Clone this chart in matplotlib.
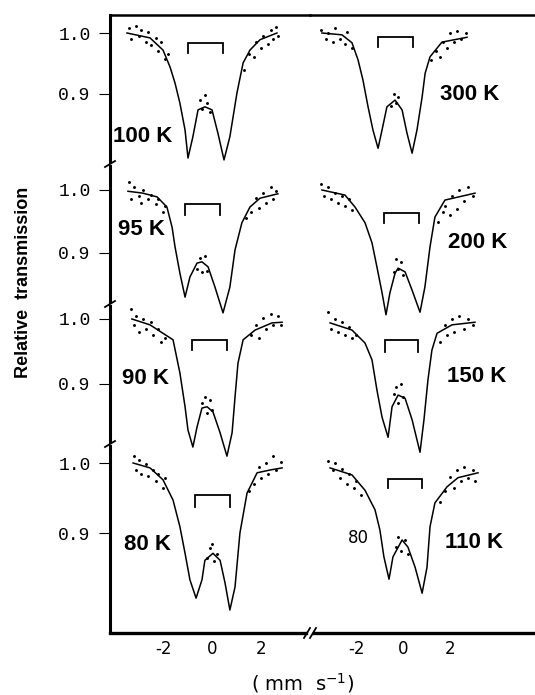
import matplotlib
matplotlib.use('Agg')
import matplotlib.pyplot as plt
from matplotlib.lines import Line2D

W, H = 535, 695

# fitted curves: velocity (mm/s) and relative transmission
v_100 = [-3.47, -2.53, -2.00, -1.71, -1.51, -1.31, -1.10, -0.98, -0.78, -0.57, -0.29, 0.00, 0.24, 0.49, 0.73, 1.02, 1.27, 1.55, 1.96, 2.65]
t_100 = [1.000, 0.992, 0.972, 0.944, 0.918, 0.885, 0.841, 0.795, 0.830, 0.874, 0.879, 0.874, 0.836, 0.792, 0.830, 0.902, 0.951, 0.972, 0.989, 1.000]
v_95 = [-3.43, -2.82, -2.24, -1.84, -1.63, -1.51, -1.31, -1.10, -0.90, -0.61, -0.41, -0.16, 0.12, 0.45, 0.73, 0.94, 1.22, 1.55, 1.96, 2.69]
t_95 = [0.998, 0.995, 0.989, 0.973, 0.941, 0.910, 0.868, 0.830, 0.862, 0.884, 0.886, 0.878, 0.846, 0.805, 0.846, 0.905, 0.948, 0.973, 0.987, 0.994]
v_90 = [-3.27, -2.53, -2.00, -1.59, -1.31, -1.10, -0.98, -0.78, -0.61, -0.41, -0.20, 0.04, 0.33, 0.61, 0.82, 0.94, 1.06, 1.27, 1.76, 2.45, 2.86]
t_90 = [1.000, 0.991, 0.978, 0.968, 0.917, 0.865, 0.829, 0.803, 0.834, 0.863, 0.865, 0.857, 0.825, 0.789, 0.825, 0.880, 0.932, 0.968, 0.983, 0.994, 0.995]
v_80 = [-3.22, -2.53, -2.00, -1.59, -1.31, -1.10, -0.90, -0.65, -0.41, -0.29, 0.04, 0.33, 0.53, 0.73, 0.94, 1.14, 1.43, 1.84, 2.37, 2.86]
t_80 = [1.000, 0.993, 0.976, 0.947, 0.909, 0.871, 0.833, 0.807, 0.833, 0.861, 0.871, 0.861, 0.829, 0.790, 0.823, 0.900, 0.957, 0.986, 0.990, 0.993]
v_300 = [-3.48, -2.62, -2.19, -1.93, -1.72, -1.50, -1.29, -1.07, -0.90, -0.69, -0.34, -0.04, 0.17, 0.39, 0.60, 0.82, 0.95, 1.16, 1.67, 2.75]
t_300 = [1.000, 0.997, 0.984, 0.956, 0.923, 0.879, 0.841, 0.811, 0.841, 0.879, 0.890, 0.874, 0.836, 0.803, 0.841, 0.895, 0.934, 0.961, 0.985, 0.993]
v_200 = [-3.48, -2.49, -2.06, -1.63, -1.33, -1.12, -0.90, -0.73, -0.56, -0.34, -0.21, 0.09, 0.39, 0.73, 0.94, 1.16, 1.37, 1.80, 3.09]
t_200 = [1.000, 0.992, 0.973, 0.948, 0.916, 0.878, 0.837, 0.802, 0.837, 0.868, 0.876, 0.870, 0.841, 0.806, 0.846, 0.910, 0.957, 0.984, 0.995]
v_150 = [-3.13, -2.19, -1.63, -1.33, -1.12, -0.90, -0.64, -0.47, -0.21, 0.09, 0.39, 0.73, 0.90, 1.07, 1.24, 1.46, 2.10, 3.09]
t_150 = [0.994, 0.983, 0.963, 0.937, 0.891, 0.849, 0.818, 0.865, 0.883, 0.878, 0.845, 0.795, 0.845, 0.906, 0.952, 0.978, 0.991, 0.995]
v_110 = [-3.13, -2.19, -1.63, -1.20, -0.99, -0.82, -0.60, -0.43, -0.04, 0.21, 0.52, 0.82, 1.03, 1.16, 1.37, 1.89, 2.36, 3.22]
t_110 = [0.993, 0.983, 0.961, 0.933, 0.904, 0.866, 0.834, 0.866, 0.890, 0.880, 0.851, 0.814, 0.851, 0.909, 0.943, 0.966, 0.979, 0.986]

# measured points (scatter around the fits)
d100_v = [-3.4, -3.3, -3.1, -3.0, -2.9, -2.7, -2.6, -2.5, -2.3, -2.2, -2.1, -1.9, -1.8, -0.5, -0.4, -0.3, -0.2, -0.1, 1.3, 1.5, 1.7, 1.8, 2.0, 2.1, 2.3, 2.4, 2.5, 2.6, 2.7]
d100_t = [1.008, 0.99, 1.012, 0.995, 1.005, 0.985, 1.002, 0.98, 0.992, 0.97, 0.985, 0.958, 0.965, 0.89, 0.875, 0.898, 0.885, 0.87, 0.94, 0.965, 0.96, 0.985, 0.975, 0.995, 0.982, 1.005, 0.99, 1.01, 0.995]
d95_v = [-3.4, -3.3, -3.2, -3.0, -2.9, -2.8, -2.6, -2.5, -2.3, -2.2, -2.0, -1.9, -0.6, -0.5, -0.4, -0.3, -0.2, 1.4, 1.6, 1.8, 1.9, 2.1, 2.2, 2.4, 2.5, 2.6]
d95_t = [1.012, 0.985, 1.005, 0.99, 0.98, 1.0, 0.985, 0.992, 0.978, 0.985, 0.965, 0.975, 0.875, 0.892, 0.87, 0.895, 0.872, 0.955, 0.965, 0.988, 0.972, 0.995, 0.98, 1.005, 0.985, 0.998]
d90_v = [-3.3, -3.2, -3.1, -3.0, -2.8, -2.7, -2.5, -2.4, -2.2, -2.1, -1.9, -0.4, -0.3, -0.2, -0.1, 0.0, 1.6, 1.8, 1.9, 2.1, 2.2, 2.4, 2.5, 2.7, 2.8]
d90_t = [1.015, 0.99, 1.005, 0.98, 1.0, 0.985, 0.995, 0.975, 0.985, 0.965, 0.97, 0.87, 0.88, 0.855, 0.875, 0.86, 0.975, 0.99, 0.97, 1.002, 0.985, 1.008, 0.99, 1.005, 0.99]
d80_v = [-3.2, -3.1, -3.0, -2.9, -2.7, -2.6, -2.4, -2.3, -2.2, -2.0, -1.9, -0.2, -0.1, 0.0, 0.1, 0.2, 1.5, 1.7, 1.9, 2.0, 2.2, 2.3, 2.5, 2.6, 2.8]
d80_t = [1.01, 0.99, 1.005, 0.985, 0.998, 0.982, 0.99, 0.975, 0.985, 0.965, 0.978, 0.865, 0.878, 0.885, 0.86, 0.87, 0.96, 0.97, 0.995, 0.978, 1.0, 0.985, 1.01, 0.99, 1.002]
d300_v = [-3.5, -3.3, -3.2, -3.0, -2.9, -2.7, -2.5, -2.4, -2.2, -0.5, -0.4, -0.3, -0.2, 1.2, 1.4, 1.6, 1.7, 1.9, 2.0, 2.2, 2.3, 2.5, 2.7]
d300_t = [1.005, 0.99, 1.0, 0.985, 1.008, 0.99, 0.982, 1.002, 0.975, 0.88, 0.9, 0.885, 0.895, 0.955, 0.97, 0.96, 0.985, 0.975, 1.0, 0.985, 1.003, 0.99, 1.0]
d200_v = [-3.5, -3.4, -3.2, -3.1, -2.9, -2.8, -2.6, -2.5, -2.3, -2.2, -0.4, -0.3, -0.2, -0.1, 0.0, 1.5, 1.7, 1.8, 2.0, 2.1, 2.3, 2.4, 2.6, 2.8, 3.0]
d200_t = [1.01, 0.99, 1.005, 0.985, 0.995, 0.98, 0.99, 0.975, 0.985, 0.968, 0.87, 0.89, 0.875, 0.885, 0.865, 0.95, 0.965, 0.975, 0.96, 0.99, 0.97, 1.0, 0.982, 1.005, 0.99]
d150_v = [-3.2, -3.1, -2.9, -2.8, -2.6, -2.5, -2.3, -2.2, -2.0, -0.4, -0.3, -0.2, -0.1, 0.0, 1.6, 1.8, 1.9, 2.1, 2.2, 2.4, 2.6, 2.8, 3.0]
d150_t = [1.01, 0.985, 1.0, 0.98, 0.995, 0.975, 0.988, 0.97, 0.975, 0.885, 0.895, 0.87, 0.9, 0.88, 0.965, 0.99, 0.975, 1.0, 0.98, 1.005, 0.985, 1.0, 0.99]
d110_v = [-3.2, -3.0, -2.9, -2.7, -2.6, -2.4, -2.3, -2.1, -2.0, -1.8, -0.3, -0.2, -0.1, 0.1, 0.2, 1.6, 1.8, 2.0, 2.2, 2.3, 2.5, 2.6, 2.8, 3.0, 3.1]
d110_t = [1.003, 0.99, 1.0, 0.978, 0.992, 0.97, 0.985, 0.965, 0.975, 0.955, 0.88, 0.895, 0.875, 0.89, 0.87, 0.945, 0.96, 0.98, 0.965, 0.99, 0.975, 0.995, 0.978, 0.99, 0.975]

# line-position brackets: left and right velocity, top and leg transmission
br_100 = [-0.98, 0.45, 0.984, 0.967]
br_95 = [-1.10, 0.33, 0.978, 0.960]
br_90 = [-0.82, 0.61, 0.968, 0.952]
br_80 = [-0.69, 0.73, 0.954, 0.937]
br_300 = [-1.07, 0.43, 0.993, 0.977]
br_200 = [-0.82, 0.69, 0.963, 0.948]
br_150 = [-0.77, 0.64, 0.968, 0.949]
br_110 = [-0.64, 0.82, 0.977, 0.964]

temps = ['100 K', '95 K', '90 K', '80 K', '300 K', '200 K', '150 K', '110 K']
x_ticks = [-2, 0, 2]
x_ticklabels = ['-2', '0', '2']

# layout, in pixels of the 535x695 picture
FRAME = (110, 535, 15, 633)          # left, right, top, bottom
BREAK_X = 310
CENTRE = [(212, 24.5), (403, 23.3)]  # pixel of v=0, pixels per mm/s
ROW_Y = [(33, 94), (190, 253), (319, 384), (463, 533)]   # pixel of 1.0 and 0.9
ROW_EDGE = [(15, 164), (164, 304), (304, 444), (444, 633)]
LABEL_XY = [(113, 137), (118, 230), (122, 378), (124, 545),
            (440, 95), (448, 242), (447, 377), (445, 542)]

BOLD = ['Liberation Sans', 'DejaVu Sans']


def fx(px):
  return px / W


def fy(py):
  return 1 - py / H


def add_panel(fig, col, row):
  left, right, top, bottom = FRAME
  x0, x1 = (left, BREAK_X) if col == 0 else (BREAK_X, right)
  ax = fig.add_axes([fx(x0), fy(bottom), fx(x1 - x0), (bottom - top) / H])
  c, s = CENTRE[col]
  ax.set_xlim((x0 - c) / s, (x1 - c) / s)
  y10, y09 = ROW_Y[row]
  tr = lambda py: 1 - 0.1 * (py - y10) / (y09 - y10)
  ax.set_ylim(tr(bottom), tr(top))
  ax.patch.set_visible(False)
  for sp in ax.spines.values():
    sp.set_visible(False)
  ax.set_xticks([])
  ax.set_yticks([])

  if col == 0:
    e0, e1 = ROW_EDGE[row]
    ax.spines['left'].set_visible(True)
    ax.spines['left'].set_linewidth(2.2)
    ax.spines['left'].set_bounds(tr(e1 - 2), tr(e0 + 2) if row else tr(e0))
    ax.set_yticks([0.9, 1.0])
    ax.set_yticklabels(['0.9', '1.0'], family='Liberation Mono', fontsize=13)
    ax.tick_params(axis='y', direction='out', length=8, width=0.8, pad=6)
  if row == 0:
    ax.spines['top'].set_visible(True)
    ax.spines['top'].set_linewidth(1.8)
  if row == 3:
    ax.spines['bottom'].set_visible(True)
    ax.spines['bottom'].set_linewidth(2.4)
    xl = ax.get_xlim()
    if col == 0:
      ax.spines['bottom'].set_bounds(xl[0], xl[1] - 4 / s)
    else:
      ax.spines['bottom'].set_bounds(xl[0] + 4 / s, xl[1])
    ax.set_xticks(x_ticks)
    ax.set_xticklabels(x_ticklabels, fontsize=12)
    ax.tick_params(axis='x', length=0, pad=5)
  return ax


def plot_spectrum(ax, v, t, dv, dt, br):
  ax.plot(v, t, 'k-', lw=1.1, clip_on=False)
  ax.plot(dv, dt, 'k.', ms=2.2, clip_on=False)
  x0, x1, top, leg = br
  ax.plot([x0, x0, x1, x1], [leg, top, top, leg], 'k-', lw=1.3,
          solid_joinstyle='miter')


def main():
  fig = plt.figure(figsize=(W / 100, H / 100), dpi=100)

  spectra = [
    (0, 0, v_100, t_100, d100_v, d100_t, br_100),
    (0, 1, v_95, t_95, d95_v, d95_t, br_95),
    (0, 2, v_90, t_90, d90_v, d90_t, br_90),
    (0, 3, v_80, t_80, d80_v, d80_t, br_80),
    (1, 0, v_300, t_300, d300_v, d300_t, br_300),
    (1, 1, v_200, t_200, d200_v, d200_t, br_200),
    (1, 2, v_150, t_150, d150_v, d150_t, br_150),
    (1, 3, v_110, t_110, d110_v, d110_t, br_110),
  ]
  for col, row, v, t, dv, dt, br in spectra:
    ax = add_panel(fig, col, row)
    plot_spectrum(ax, v, t, dv, dt, br)

  # temperature labels
  for name, (px, py) in zip(temps, LABEL_XY):
    fig.text(fx(px), fy(py), name, family=BOLD, weight='bold',
             fontsize=16, ha='left', va='center')
  fig.text(fx(348), fy(538), '80', fontsize=12, ha='left', va='center')

  # broken-axis marks
  for py in [e[0] for e in ROW_EDGE[1:]]:
    fig.add_artist(Line2D([fx(105), fx(115)], [fy(py + 3), fy(py - 3)],
                          color='k', lw=1.3))
  for dx in (-3, 3):
    fig.add_artist(Line2D([fx(BREAK_X + dx - 3), fx(BREAK_X + dx + 3)],
                          [fy(FRAME[3] + 5), fy(FRAME[3] - 5)],
                          color='k', lw=1.3))

  fig.text(fx(24), fy(282), 'Relative  transmission', family=BOLD,
           weight='bold', fontsize=13, rotation=90, ha='center', va='center')
  fig.text(fx(303), fy(683), '( mm  s$^{-1}$)', fontsize=14,
           ha='center', va='center')

  fig.savefig('out.png', dpi=100)


if __name__ == '__main__':
  main()
